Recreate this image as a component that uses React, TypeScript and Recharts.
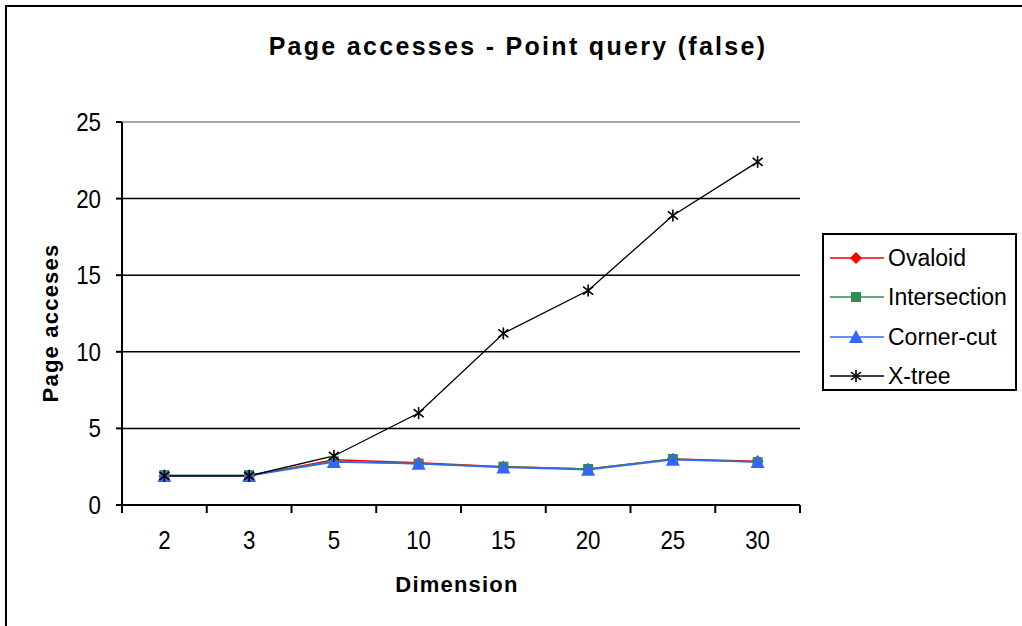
import React from 'react';
import { LineChart, Line, XAxis, YAxis, CartesianGrid, ReferenceLine, Label } from 'recharts';

// Dimensions on the x axis
const dimensions = ['2', '3', '5', '10', '15', '20', '25', '30'];
// Page accesses per index structure
const ovaloid = [1.9, 1.9, 2.95, 2.75, 2.5, 2.35, 3.0, 2.85];
const intersection = [1.95, 1.95, 2.85, 2.7, 2.5, 2.35, 3.0, 2.8];
const cornerCut = [1.9, 1.9, 2.8, 2.7, 2.45, 2.3, 2.95, 2.8];
const xTree = [1.9, 1.9, 3.2, 6.0, 11.2, 14.0, 18.9, 22.4];
const yTicks = [0, 5, 10, 15, 20, 25];

const data = dimensions.map((d, i) => ({
  dim: d,
  ovaloid: ovaloid[i],
  intersection: intersection[i],
  cornerCut: cornerCut[i],
  xTree: xTree[i],
}));

const FONT = '"Liberation Sans", Arial, sans-serif';
const RED = '#ff0000';
const GREEN = '#2e8b57';
const BLUE = '#3366ff';
const BLACK = '#000000';

const W = 1022;
const H = 626;
const PLOT_LEFT = 122;
const PLOT_RIGHT = 800;
const PLOT_TOP = 122;
const PLOT_BOTTOM = 505;
const X_AXIS_H = 60;
const BAND = (PLOT_RIGHT - PLOT_LEFT) / dimensions.length;
// Tick labels use a tall, slightly condensed face
const TICK_SIZE = 26;
const TICK_SQUEEZE = 0.86;

type Marker = 'diamond' | 'square' | 'triangle' | 'star';

function MarkerShape({ kind, cx, cy, color }: { kind: Marker; cx: number; cy: number; color: string }) {
  if (kind === 'diamond') {
    return <polygon points={`${cx},${cy - 6} ${cx + 6},${cy} ${cx},${cy + 6} ${cx - 6},${cy}`} fill={color} />;
  }
  if (kind === 'square') {
    return <rect x={cx - 5} y={cy - 5} width={10} height={10} fill={color} />;
  }
  if (kind === 'triangle') {
    return <polygon points={`${cx},${cy - 7} ${cx + 7},${cy + 6} ${cx - 7},${cy + 6}`} fill={color} />;
  }
  return (
    <g stroke={color} strokeWidth={1.6}>
      <line x1={cx} y1={cy - 6} x2={cx} y2={cy + 6} />
      <line x1={cx - 5} y1={cy - 4} x2={cx + 5} y2={cy + 4} />
      <line x1={cx - 5} y1={cy + 4} x2={cx + 5} y2={cy - 4} />
    </g>
  );
}

const makeDot = (kind: Marker, color: string) => (props: any) => {
  const { cx, cy, index } = props;
  if (cx == null || cy == null) return <g key={`d-${kind}-${index}`} />;
  return (
    <g key={`d-${kind}-${index}`}>
      <MarkerShape kind={kind} cx={cx} cy={cy} color={color} />
    </g>
  );
};

const legendItems: { name: string; color: string; kind: Marker }[] = [
  { name: 'Ovaloid', color: RED, kind: 'diamond' },
  { name: 'Intersection', color: GREEN, kind: 'square' },
  { name: 'Corner-cut', color: BLUE, kind: 'triangle' },
  { name: 'X-tree', color: BLACK, kind: 'star' },
];

function LegendBox() {
  return (
    <div
      style={{
        position: 'absolute',
        left: 822,
        top: 233,
        border: '2px solid #000',
        width: 195,
        height: 158,
        boxSizing: 'border-box',
        background: '#fff',
        paddingTop: 3,
        fontFamily: FONT,
        fontSize: 23,
      }}
    >
      {legendItems.map((it) => (
        <div key={it.name} style={{ display: 'flex', alignItems: 'center', height: 39.5 }}>
          <svg width={60} height={20} style={{ marginLeft: 4, flex: 'none' }}>
            <line x1={2} y1={10} x2={56} y2={10} stroke={it.color} strokeWidth={1.5} />
            <MarkerShape kind={it.kind} cx={28} cy={10} color={it.color} />
          </svg>
          <span style={{ color: '#000', lineHeight: '24px' }}>{it.name}</span>
        </div>
      ))}
    </div>
  );
}

function TickText({ x, y, anchor, children }: { x: number; y: number; anchor: 'middle' | 'end'; children: any }) {
  return (
    <text
      transform={`translate(${x}, ${y}) scale(${TICK_SQUEEZE}, 1)`}
      textAnchor={anchor}
      fontFamily={FONT}
      fontSize={TICK_SIZE}
      fill="#000"
    >
      {children}
    </text>
  );
}

function XTick(props: any) {
  const { x, y, payload, index } = props;
  const left = x - BAND / 2;
  return (
    <g>
      <line x1={left} y1={y} x2={left} y2={y + 8} stroke="#000" strokeWidth={2} />
      {index === dimensions.length - 1 && (
        <line x1={x + BAND / 2} y1={y} x2={x + BAND / 2} y2={y + 8} stroke="#000" strokeWidth={2} />
      )}
      <TickText x={x} y={y + 44} anchor="middle">
        {payload.value}
      </TickText>
    </g>
  );
}

function YTick(props: any) {
  const { x, y, payload } = props;
  return (
    <TickText x={x} y={y + 9} anchor="end">
      {payload.value}
    </TickText>
  );
}

export default function App() {
  return (
    <div
      style={{
        position: 'fixed',
        left: 0,
        top: 0,
        width: W,
        height: H,
        background: '#fff',
        overflow: 'hidden',
      }}
    >
      <div
        style={{
          position: 'absolute',
          left: 5,
          top: 5,
          width: W,
          height: H,
          borderLeft: '2px solid #000',
          borderTop: '2px solid #000',
        }}
      />
      <div
        style={{
          position: 'absolute',
          left: 0,
          width: 1036,
          top: 32,
          textAlign: 'center',
          fontFamily: FONT,
          fontWeight: 'bold',
          fontSize: 25,
          letterSpacing: 2.3,
          color: '#000',
        }}
      >
        Page accesses - Point query (false)
      </div>
      <LineChart
        width={W}
        height={H}
        data={data}
        margin={{ top: PLOT_TOP, right: W - PLOT_RIGHT, bottom: H - PLOT_BOTTOM - X_AXIS_H, left: 0 }}
        style={{ position: 'absolute', left: 0, top: 0 }}
      >
        <CartesianGrid stroke="#000" strokeWidth={1.5} vertical={false} horizontalValues={[5, 10, 15, 20]} />
        <ReferenceLine y={25} stroke="#8c8c8c" strokeWidth={1.5} />
        <XAxis
          dataKey="dim"
          scale="band"
          height={X_AXIS_H}
          tickLine={false}
          tickSize={0}
          tickMargin={0}
          axisLine={{ stroke: '#000', strokeWidth: 2 }}
          tick={<XTick />}
          interval={0}
        >
          <Label
            content={() => (
              <text
                x={457}
                y={592}
                textAnchor="middle"
                fontFamily={FONT}
                fontWeight="bold"
                fontSize={22}
                letterSpacing={1.2}
                fill="#000"
              >
                Dimension
              </text>
            )}
          />
        </XAxis>
        <YAxis
          width={PLOT_LEFT}
          domain={[0, 25]}
          ticks={yTicks}
          interval={0}
          tickSize={6}
          tickMargin={15}
          tickLine={{ stroke: '#000', strokeWidth: 2 }}
          axisLine={{ stroke: '#000', strokeWidth: 2 }}
          tick={<YTick />}
        >
          <Label
            content={() => (
              <text
                x={0}
                y={0}
                transform={`translate(58, 323) rotate(-90)`}
                textAnchor="middle"
                fontFamily={FONT}
                fontWeight="bold"
                fontSize={22}
                letterSpacing={1.2}
                fill="#000"
              >
                Page acceses
              </text>
            )}
          />
        </YAxis>
        <YAxis
          yAxisId="frame"
          orientation="right"
          width={0}
          domain={[0, 25]}
          tick={false}
          tickLine={false}
          axisLine={{ stroke: '#8c8c8c', strokeWidth: 1.5 }}
        />
        <Line
          type="linear"
          dataKey="ovaloid"
          name="Ovaloid"
          stroke={RED}
          strokeWidth={1.5}
          dot={makeDot('diamond', RED)}
          isAnimationActive={false}
        />
        <Line
          type="linear"
          dataKey="intersection"
          name="Intersection"
          stroke={GREEN}
          strokeWidth={1.5}
          dot={makeDot('square', GREEN)}
          isAnimationActive={false}
        />
        <Line
          type="linear"
          dataKey="cornerCut"
          name="Corner-cut"
          stroke={BLUE}
          strokeWidth={1.5}
          dot={makeDot('triangle', BLUE)}
          isAnimationActive={false}
        />
        <Line
          type="linear"
          dataKey="xTree"
          name="X-tree"
          stroke={BLACK}
          strokeWidth={1.3}
          dot={makeDot('star', BLACK)}
          isAnimationActive={false}
        />
      </LineChart>
      <LegendBox />
    </div>
  );
}
